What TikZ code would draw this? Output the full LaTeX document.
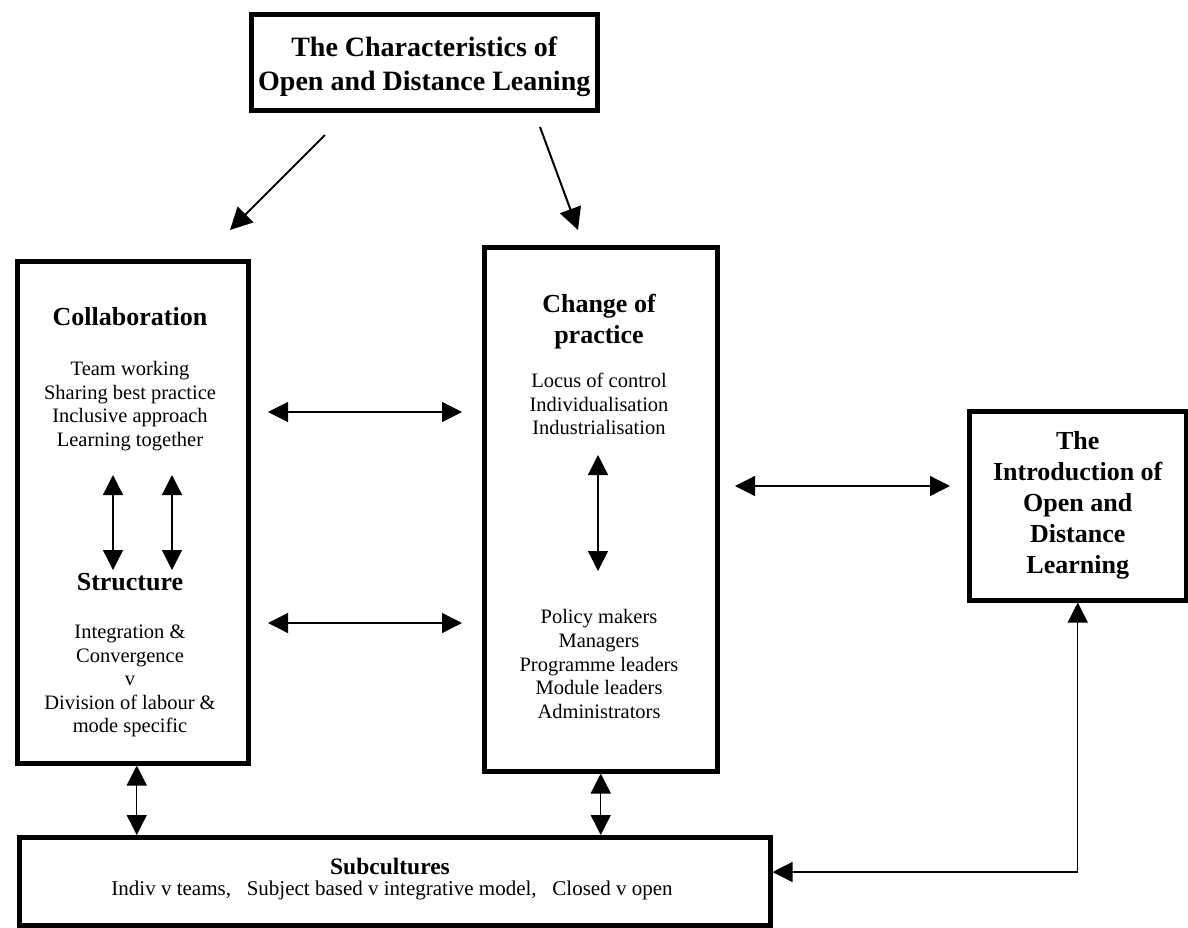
\documentclass[tikz,border=0pt]{standalone}
\usepackage{fontspec}
\setmainfont{Liberation Serif}
\usetikzlibrary{arrows.meta,calc}
\begin{document}
\begin{tikzpicture}[x=1pt,y=-1pt,
  frame/.style={draw=black,line width=4.5pt,inner sep=0pt,anchor=north west},
  hd/.style={font=\bfseries\fontsize{26}{31}\selectfont,align=center,inner sep=0pt},
  bd/.style={font=\fontsize{20.5}{23.6}\selectfont,align=center,inner sep=0pt},
  dbl/.style={line width=1.3pt,{Triangle[length=20pt,width=20pt]}-{Triangle[length=20pt,width=20pt]}},
  one/.style={line width=2pt,-{Triangle[length=22pt,width=22pt]}},
]
\useasboundingbox (0,0) rectangle (1188,927);
% frames
\node[frame,minimum width=346pt,minimum height=96pt] (top) at (249,12) {};
\node[frame,minimum width=231pt,minimum height=502pt] (collab) at (15,259) {};
\node[frame,minimum width=233pt,minimum height=524pt] (change) at (482,245) {};
\node[frame,minimum width=217pt,minimum height=189pt] (intro) at (967,409) {};
\node[frame,minimum width=751pt,minimum height=88pt] (sub) at (17,835) {};
% texts
\node[hd,font=\bfseries\fontsize{28}{34}\selectfont] (toptxt) at ($(top.center)+(0,4)$) {The Characteristics of\\Open and Distance Leaning};
\node[hd] (colh) at (130,317) {Collaboration};
\node[bd] (coll) at (130,406) {Team working\\Sharing best practice\\Inclusive approach\\Learning together};
\node[hd] (strh) at (130,582) {Structure};
\node[bd] (strl) at (130,681) {Integration \&\\Convergence\\v\\Division of labour \&\\mode specific};
\node[hd] (chh) at (599,322) {Change of\\practice};
\node[bd] (chl1) at (599,404) {Locus of control\\Individualisation\\Industrialisation};
\node[bd] (chl2) at (599,664) {Policy makers\\Managers\\Programme leaders\\Module leaders\\Administrators};
\node[hd] (introtxt) at (intro.center) {The\\Introduction of\\Open and\\Distance\\Learning};
\node[hd,font=\bfseries\fontsize{23.5}{27}\selectfont] (subh) at (390,866) {Subcultures};
\node[bd,font=\fontsize{21}{24}\selectfont] (subl) at (392,890) {Indiv v teams,\ \ \ Subject based v integrative model,\ \ \ Closed v open};
% coordinates
\coordinate (a1s) at (325,135); \coordinate (a1e) at (230,230);
\coordinate (a2s) at (540,127); \coordinate (a2e) at (578,230);
\coordinate (h1a) at (268,412); \coordinate (h1b) at (462,412);
\coordinate (h2a) at (268,623); \coordinate (h2b) at (462,623);
\coordinate (v1a) at (113,475); \coordinate (v1b) at (113,570);
\coordinate (v2a) at (172,475); \coordinate (v2b) at (172,570);
\coordinate (v3a) at (598,455); \coordinate (v3b) at (598,571);
\coordinate (ra) at (735,486); \coordinate (rb) at (950,486);
\coordinate (elb) at (intro.south |- 0,872);
% connectors
\draw[one] (a1s) -- (a1e);
\draw[one] (a2s) -- (a2e);
\draw[dbl] (h1a) -- (h1b);
\draw[dbl] (h2a) -- (h2b);
\draw[dbl] (v1a) -- (v1b);
\draw[dbl] (v2a) -- (v2b);
\draw[dbl] (v3a) -- (v3b);
\draw[dbl] (ra) -- (rb);
\draw[dbl] ($(collab.south)+(4,0)$) -- ($(collab.south |- sub.north)+(4,0)$);
\draw[dbl] (change.south) -- (change.south |- sub.north);
\draw[dbl] (intro.south) -- (elb) -- (sub.east |- elb);
\end{tikzpicture}
\end{document}
